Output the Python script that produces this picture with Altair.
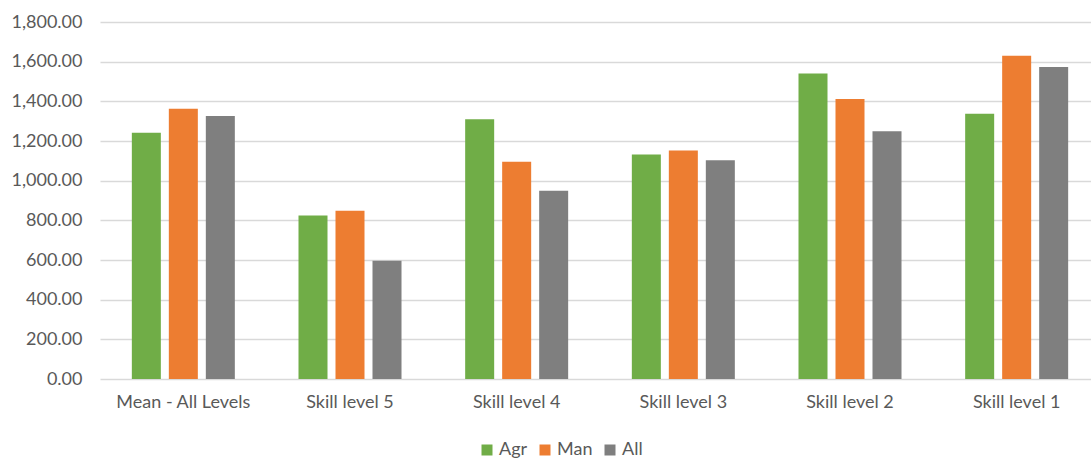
import altair as alt
import pandas as pd

categories = ["Mean - All Levels", "Skill level 5", "Skill level 4", "Skill level 3", "Skill level 2", "Skill level 1"]
series = ["Agr", "Man", "All"]
agr = [1242, 824, 1310, 1132, 1540, 1337]
man = [1363, 848, 1096, 1152, 1412, 1630]
all_ = [1326, 596, 949, 1103, 1249, 1573]
colors = ["#70AD47", "#ED7D31", "#7F7F7F"]

rows = []
for s, vals in zip(series, [agr, man, all_]):
    for c, v in zip(categories, vals):
        rows.append({"Category": c, "Series": s, "Value": v})
df = pd.DataFrame(rows)

font = "Lato"
fs = 18
chart = alt.Chart(df, background="white").mark_bar().encode(
    x=alt.X("Category:N", sort=categories, title=None,
            scale=alt.Scale(paddingInner=0.382, paddingOuter=0.191, range=[0, 1000]),
            axis=alt.Axis(labelAngle=0, labelFontSize=fs, labelColor="#595959", labelFont=font,
                          ticks=False, domain=False, labelPadding=14)),
    xOffset=alt.XOffset("Series:N", sort=series, scale=alt.Scale(paddingInner=0.216)),
    y=alt.Y("Value:Q", title=None,
            scale=alt.Scale(domain=[0, 1800], nice=False),
            axis=alt.Axis(values=list(range(0, 1801, 200)), format=",.2f", labelFontSize=fs,
                          labelColor="#595959", labelFont=font, ticks=False, domain=False,
                          gridColor="#D9D9D9", gridWidth=1.5, labelPadding=18)),
    color=alt.Color("Series:N", sort=series,
                    scale=alt.Scale(domain=series, range=colors),
                    legend=alt.Legend(title=None, orient="none", direction="horizontal",
                                      legendX=378, legendY=419, symbolType="square",
                                      symbolSize=121, symbolStrokeWidth=0, labelFontSize=fs,
                                      labelColor="#595959", labelFont=font, columnPadding=8,
                                      labelOffset=3, symbolOpacity=1)),
).properties(
    width=991, height=357,
    autosize=alt.AutoSizeParams(type="none"),
    padding={"left": 100, "top": 22, "right": 0, "bottom": 82},
).configure_view(stroke=None)

chart.save("out.html", embed_options={"renderer": "svg", "actions": False})
